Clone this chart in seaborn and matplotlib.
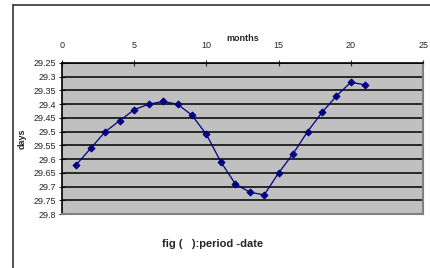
import numpy as np
import pandas as pd
import matplotlib
matplotlib.use('Agg')
import matplotlib.pyplot as plt
import seaborn as sns

# data
months = list(range(1, 22))
days = [29.62, 29.56, 29.50, 29.46, 29.42, 29.40, 29.39, 29.40, 29.44, 29.51,
        29.61, 29.69, 29.72, 29.73, 29.65, 29.58, 29.50, 29.43, 29.37, 29.32, 29.33]
y_ticks = [29.25, 29.3, 29.35, 29.4, 29.45, 29.5, 29.55, 29.6, 29.65, 29.7, 29.75, 29.8]
x_ticks = [0, 5, 10, 15, 20, 25]

df = pd.DataFrame({'months': months, 'days': days})

sns.set_style('ticks')
plt.rcParams['font.family'] = ['Liberation Sans Narrow', 'Liberation Sans', 'DejaVu Sans']

fig = plt.figure(figsize=(4.3, 2.68), dpi=100)
ax = fig.add_axes([0.144, 0.201, 0.84, 0.564])
ax.set_facecolor('#c0c0c0')

# outer chart frame (only left and top visible in the crop)
fig.add_artist(plt.Line2D([0.031, 0.031], [0.0, 0.982], color='#333333', lw=1.2))
fig.add_artist(plt.Line2D([0.031, 1.0], [0.982, 0.982], color='#333333', lw=1.2))

for v in y_ticks:
    ax.axhline(v, color='black', lw=1.1, zorder=1)

sns.lineplot(data=df, x='months', y='days', color='#000080', marker='D',
             markersize=3.5, markeredgecolor='#000080', lw=0.9, ax=ax, zorder=3)

ax.set_xlim(0, 25)
ax.set_ylim(29.8, 29.25)
ax.set_xticks(x_ticks)
ax.set_yticks(y_ticks)
ax.set_yticklabels([f'{v:g}' for v in y_ticks])
ax.xaxis.tick_top()
ax.xaxis.set_label_position('top')
ax.tick_params(axis='both', direction='inout', length=4, width=0.8, labelsize=6.5, pad=2)
ax.tick_params(axis='x', pad=7)

ax.set_xlabel('months', fontsize=6.5, fontweight='bold', labelpad=0)
ax.set_ylabel('days', fontsize=6.5, fontweight='bold', labelpad=5)

for side in ['left', 'top']:
    ax.spines[side].set_color('black')
    ax.spines[side].set_linewidth(1.2)
for side in ['right', 'bottom']:
    ax.spines[side].set_visible(True)
    ax.spines[side].set_color('#808080')
    ax.spines[side].set_linewidth(1.5)

fig.text(0.495, 0.09, 'fig (   ):period -date', ha='center', va='center',
         fontsize=8, fontweight='bold')

fig.savefig('out.png', dpi=100)
